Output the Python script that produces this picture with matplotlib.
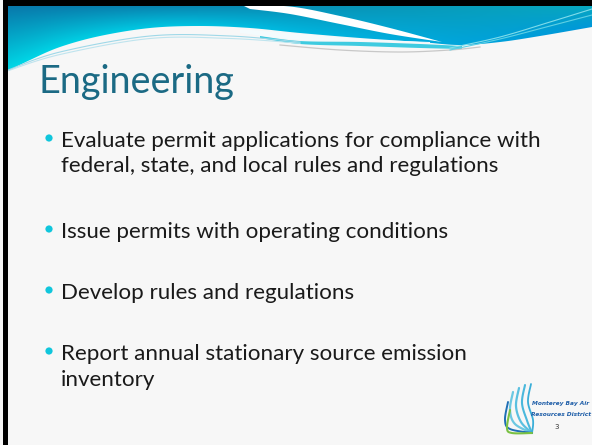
import numpy as np
import matplotlib
matplotlib.use("Agg")
import matplotlib.pyplot as plt
from matplotlib.patches import Polygon, Rectangle, Circle

# ---- content ----
title = "Engineering"
bullets = [
    ["Evaluate permit applications for compliance with",
     "federal, state, and local rules and regulations"],
    ["Issue permits with operating conditions"],
    ["Develop rules and regulations"],
    ["Report annual stationary source emission", "inventory"],
]
bullet_baselines = [147, 238, 299, 360]
line_gap = 25.5
logo_lines = ["Monterey Bay Air", "Resources District"]
page_number = "3"

W, H = 592, 445
fig = plt.figure(figsize=(W / 100, H / 100), dpi=100)
fig.patch.set_facecolor("#f7f7f7")
ax = fig.add_axes([0, 0, 1, 1])
ax.set_xlim(0, W)
ax.set_ylim(H, 0)
ax.axis("off")
ax.set_facecolor("#f7f7f7")


def smooth(pts, n=20):
    pts = np.asarray(pts, float)
    P = np.vstack([pts[0], pts, pts[-1]])
    out = []
    for i in range(1, len(P) - 2):
        p0, p1, p2, p3 = P[i - 1], P[i], P[i + 1], P[i + 2]
        for t in np.linspace(0, 1, n, endpoint=False):
            t2, t3 = t * t, t * t * t
            out.append(0.5 * ((2 * p1) + (-p0 + p2) * t +
                              (2 * p0 - 5 * p1 + 4 * p2 - p3) * t2 +
                              (-p0 + 3 * p1 - 3 * p2 + p3) * t3))
    out.append(pts[-1])
    return np.array(out)


def hex2rgb(h):
    h = h.lstrip("#")
    return np.array([int(h[i:i + 2], 16) / 255 for i in (0, 2, 4)])

# ---- header gradient ----
lower = smooth([(8, 71), (30, 60), (60, 47), (100, 36), (150, 28), (200, 26),
                (250, 28), (300, 33), (360, 38), (420, 42), (460, 45),
                (500, 42), (540, 36), (592, 27)])
bx = np.arange(W)
by = np.interp(bx, lower[:, 0], lower[:, 1])
top_l, top_r = hex2rgb("#0878ab"), hex2rgb("#08a8c0")
bot_l, bot_r = hex2rgb("#00dbe8"), hex2rgb("#0096da")
img = np.zeros((80, W, 3))
for yy in range(80):
    t = np.clip((yy - 6) / np.maximum(by - 6, 1), 0, 1)[:, None]
    s = np.clip(bx / W, 0, 1)[:, None]
    top = top_l * (1 - s) + top_r * s
    bot = bot_l * (1 - s) + bot_r * s
    img[yy] = top * (1 - t) + bot * t
poly = np.vstack([[8, 6], [W, 6], lower[::-1]])
patch = Polygon(poly, closed=True, facecolor="none", edgecolor="none")
ax.add_patch(patch)
im = ax.imshow(img, extent=(0, W, 80, 0), aspect="auto", zorder=1)
im.set_clip_path(patch)

# cyan band under the wave
band_up = smooth([(260, 36), (300, 41), (360, 42), (420, 44), (462, 46)])
band_lo = smooth([(462, 49), (420, 48), (360, 46), (300, 44), (260, 38)])
ax.add_patch(Polygon(np.vstack([band_up, band_lo]), closed=True,
                     facecolor="#1fc4dc", edgecolor="none", zorder=2, alpha=0.85))
ax.add_patch(Polygon(np.vstack([smooth([(240, 29), (300, 34), (360, 39), (430, 42)]),
                                smooth([(430, 43), (360, 41), (300, 40), (240, 33)])]),
                     closed=True, facecolor="#f4fbfd", edgecolor="none", zorder=2))

# white swoosh
sw_up = smooth([(244, 6), (290, 6.5), (340, 16), (390, 28), (442, 42)])
sw_lo = smooth([(442, 42), (390, 34), (340, 24), (290, 14), (250, 9)])
ax.add_patch(Polygon(np.vstack([sw_up, sw_lo]), closed=True,
                     facecolor="#ffffff", edgecolor="none", zorder=3))

# thin lines
for off, col in [(0, "#9fd8e8"), (2.5, "#bfe4ee")]:
    c = smooth([(8, 70 + off * 0.3), (60, 52 + off), (150, 36 + off), (230, 36 + off),
                (300, 42 + off * 0.5)])
    ax.plot(c[:, 0], c[:, 1], color=col, lw=0.8, zorder=3)
g = smooth([(280, 45), (340, 50), (400, 52), (450, 50), (480, 47)])
ax.plot(g[:, 0], g[:, 1], color="#c8c8c8", lw=0.9, zorder=3)
for a, b_, col in [(47, 9, "#7fdcea"), (49, 15, "#5fd0e4")]:
    c = smooth([(450, a + 1), (500, a - 10), (550, (a + b_) / 2 - 6), (592, b_)])
    ax.plot(c[:, 0], c[:, 1], color=col, lw=0.8, zorder=3)

# black frame
ax.add_patch(Rectangle((3, 0), 5, H, facecolor="#000000", edgecolor="none", zorder=5))
ax.add_patch(Rectangle((3, 0), W, 6, facecolor="#000000", edgecolor="none", zorder=5))

# ---- title ----
ax.text(38, 93, title, fontsize=27.2, family="Lato", color="#1b6a84",
        va="baseline", ha="left", zorder=6)

# ---- bullets ----
for lines, base in zip(bullets, bullet_baselines):
    ax.add_patch(Circle((49, base - 9), 3.6, facecolor="#10c6dc",
                        edgecolor="none", zorder=6))
    for k, ln in enumerate(lines):
        ax.text(61, base + k * line_gap, ln, fontsize=16.1, family="Lato",
                color="#1a1a1a", va="baseline", ha="left", zorder=6)

# ---- logo ----
for (x0, y0, col, lw) in [(513, 392, "#6cc8e2", 1.6), (519, 388, "#5ac0e0", 1.6),
                          (525, 385, "#4ab8dc", 1.5), (531, 384, "#3aaed8", 1.3),
                          (508, 402, "#1f6fb5", 1.4), (510, 410, "#7ac143", 1.5)]:
    c = smooth([(x0, y0), (x0 - 3, y0 + 18), (x0 + 2, (y0 + 432) / 2 + 12),
                (532, 433)])
    ax.plot(c[:, 0], c[:, 1], color=col, lw=lw, zorder=6, solid_capstyle="round")
ax.text(561, 404, logo_lines[0], fontsize=4.2, style="italic", weight="bold",
        color="#1f5ea8", ha="center", va="center", family="DejaVu Sans", zorder=6)
ax.text(561, 415, logo_lines[1], fontsize=4.2, style="italic", weight="bold",
        color="#1f5ea8", ha="center", va="center", family="DejaVu Sans", zorder=6)
ax.text(557, 427, page_number, fontsize=5, color="#333333", ha="center",
        va="center", zorder=6)

fig.savefig("out.png", dpi=100, facecolor=fig.get_facecolor())
